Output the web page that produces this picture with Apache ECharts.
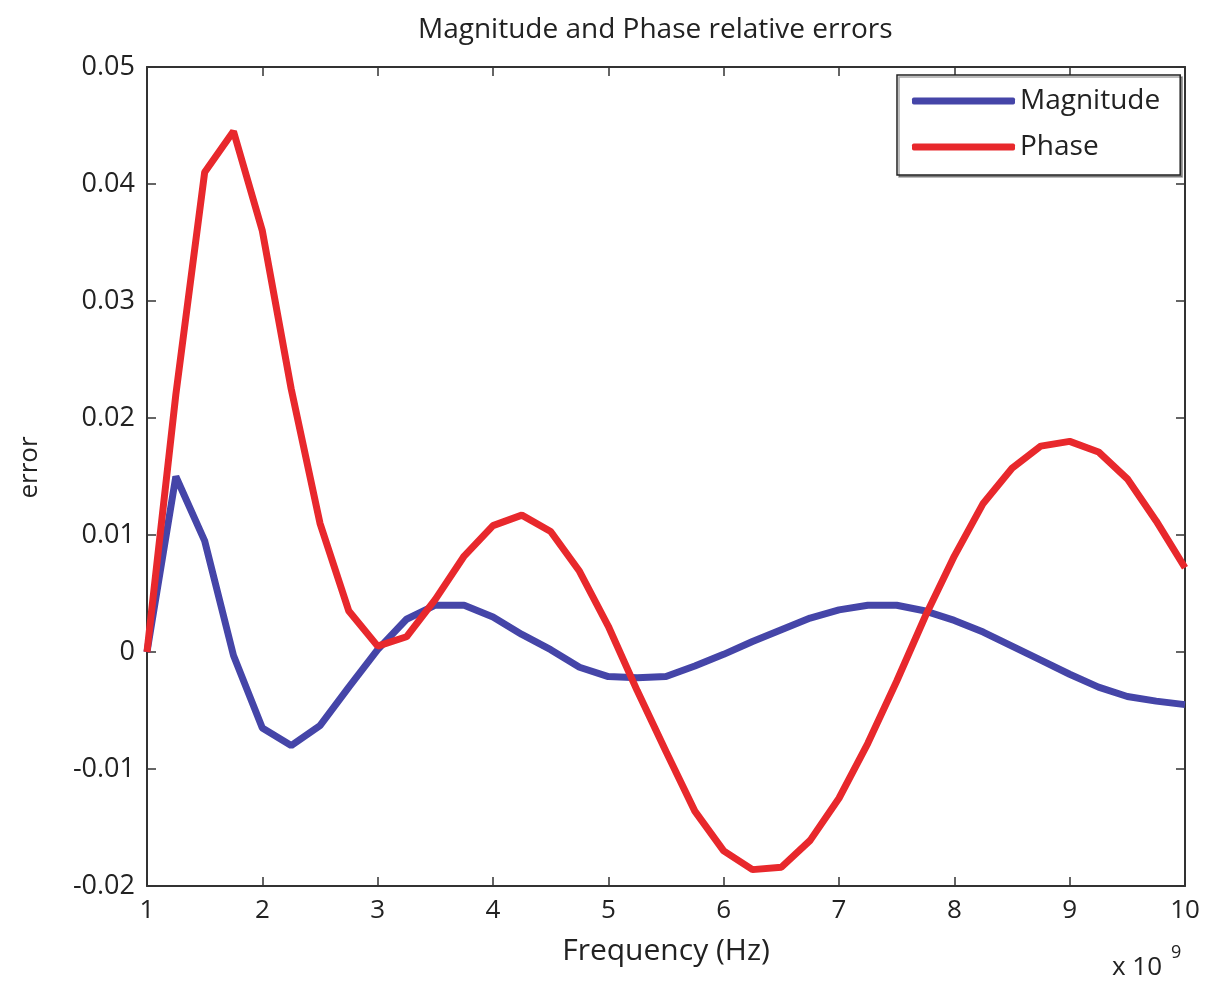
<!DOCTYPE html>
<html>
<head>
<meta charset="utf-8">
<script src="https://cdn.jsdelivr.net/npm/echarts@6/dist/echarts.min.js"></script>
<style>
  html, body { margin: 0; padding: 0; background: #fff; }
  #main { width: 1213px; height: 1000px; }
</style>
</head>
<body>
<div id="main"></div>
<script>
// 频率 (x 10^9 Hz)
var freq = [1, 1.25, 1.5, 1.75, 2, 2.25, 2.5, 2.75, 3, 3.25, 3.5, 3.75, 4, 4.25, 4.5, 4.75,
    5, 5.25, 5.5, 5.75, 6, 6.25, 6.5, 6.75, 7, 7.25, 7.5, 7.75, 8, 8.25, 8.5, 8.75,
    9, 9.25, 9.5, 9.75, 10]
// 幅值误差
var magnitude = [0, 0.015, 0.0095, -0.0003, -0.0065, -0.008, -0.0063, -0.003, 0.0002, 0.0028,
    0.004, 0.004, 0.003, 0.0015, 0.0002, -0.0013, -0.0021, -0.0022, -0.0021, -0.0012,
    -0.0002, 0.0009, 0.0019, 0.0029, 0.0036, 0.004, 0.004, 0.0035, 0.0027, 0.0017,
    0.0005, -0.0007, -0.0019, -0.003, -0.0038, -0.0042, -0.0045]
// 相位误差
var phase = [0, 0.022, 0.041, 0.0445, 0.036, 0.0225, 0.011, 0.0035, 0.0005, 0.0013,
    0.0045, 0.0082, 0.0108, 0.0117, 0.0103, 0.0069, 0.0022, -0.0033, -0.0085, -0.0136,
    -0.017, -0.0186, -0.0184, -0.0161, -0.0125, -0.0078, -0.0025, 0.0031, 0.0082, 0.0127,
    0.0157, 0.0176, 0.018, 0.0171, 0.0148, 0.0112, 0.0072]

function pairs(vals) {
    return freq.map(function (f, i) { return [f, vals[i]] })
}

var font = 'Open Sans'
var axisLine = { show: true, onZero: false, lineStyle: { color: '#333', width: 2 } }
var tick = { show: true, inside: true, length: 9, lineStyle: { color: '#333', width: 1.5 } }

var myChart = echarts.init(document.getElementById('main'))
var option = {
    animation: false,
    backgroundColor: '#fff',
    title: {
        text: 'Magnitude and Phase relative errors',
        left: 413,
        top: 11,
        textStyle: { fontFamily: font, fontSize: 28, fontWeight: 'normal', color: '#222' }
    },
    grid: { left: 147, right: 28, top: 67, bottom: 114 },
    legend: {
        orient: 'vertical',
        left: 897,
        top: 75,
        padding: [12, 20, 14, 15],
        itemGap: 18,
        itemWidth: 103,
        itemHeight: 7,
        icon: 'roundRect',
        borderColor: '#222',
        borderWidth: 1.5,
        backgroundColor: '#fff',
        shadowColor: 'rgba(0,0,0,0.35)',
        shadowOffsetX: 2,
        shadowOffsetY: 2,
        textStyle: { fontFamily: font, fontSize: 28, color: '#222' },
        data: ['Magnitude', 'Phase']
    },
    xAxis: [
        {
            type: 'value', min: 1, max: 10, interval: 1,
            name: 'Frequency (Hz)', nameLocation: 'middle', nameGap: 50,
            nameTextStyle: { fontFamily: font, fontSize: 30, color: '#222' },
            axisLine: axisLine, axisTick: tick, splitLine: { show: false },
            axisLabel: { fontFamily: font, fontSize: 26, color: '#222', margin: 12 }
        },
        {
            type: 'value', min: 1, max: 10, interval: 1, position: 'top',
            axisLine: axisLine, axisTick: tick, splitLine: { show: false },
            axisLabel: { show: false }
        }
    ],
    yAxis: [
        {
            type: 'value', min: -0.02, max: 0.05, interval: 0.01,
            name: 'error', nameLocation: 'middle', nameGap: 104, nameRotate: 90,
            nameTextStyle: { fontFamily: font, fontSize: 26, color: '#222', padding: [0, 0, 0, 18] },
            axisLine: axisLine, axisTick: tick, splitLine: { show: false },
            axisLabel: {
                fontFamily: font, fontSize: 27, color: '#222', margin: 12,
                formatter: function (v) { return String(+v.toFixed(2)) }
            }
        },
        {
            type: 'value', min: -0.02, max: 0.05, interval: 0.01, position: 'right',
            axisLine: axisLine, axisTick: tick, splitLine: { show: false },
            axisLabel: { show: false }
        }
    ],
    graphic: [
        {
            type: 'text',
            left: 1112,
            top: 944,
            style: {
                text: '{b|x 10}{s|9}',
                rich: {
                    b: { fontFamily: font, fontSize: 26, fill: '#222', padding: [16, 0, 0, 0] },
                    s: { fontFamily: font, fontSize: 18, fill: '#222', padding: [0, 0, 14, 9] }
                }
            }
        }
    ],
    series: [
        {
            name: 'Magnitude',
            type: 'line',
            data: pairs(magnitude),
            showSymbol: false,
            symbol: 'none',
            lineStyle: { color: '#4545a8', width: 7 },
            itemStyle: { color: '#4545a8' },
            z: 2
        },
        {
            name: 'Phase',
            type: 'line',
            data: pairs(phase),
            showSymbol: false,
            symbol: 'none',
            lineStyle: { color: '#e8282c', width: 7 },
            itemStyle: { color: '#e8282c' },
            z: 3
        }
    ]
}
myChart.setOption(option)
</script>
</body>
</html>
